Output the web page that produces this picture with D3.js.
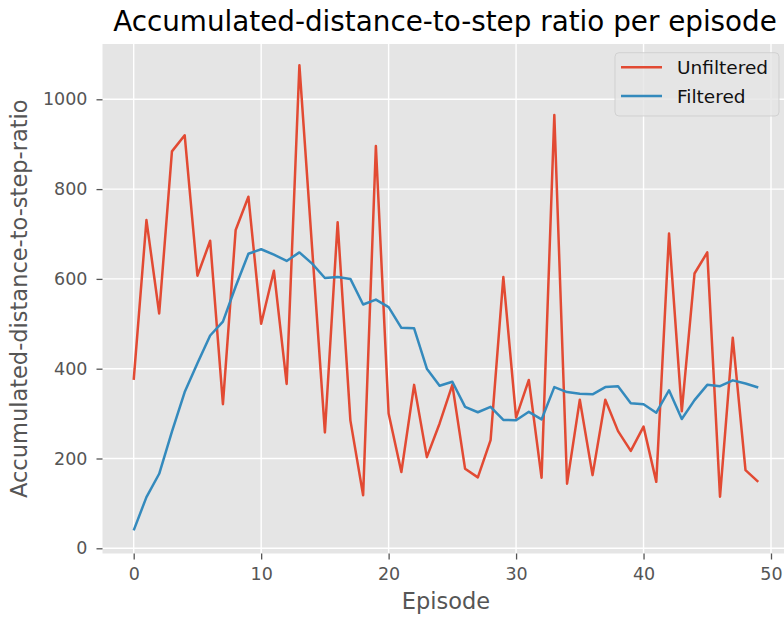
<!DOCTYPE html>
<html>
<head>
<meta charset="utf-8">
<script src="https://cdn.jsdelivr.net/npm/d3@7"></script>
<style>
  body { margin: 0; background: #fff; }
  svg { font-family: "DejaVu Sans", sans-serif; }
</style>
</head>
<body>
<script>
// values
var episodes = d3.range(0, 50);
var unfiltered = [375, 731, 523, 884, 920, 607, 685, 321, 709, 783,
                  500, 618, 366, 1076, 668, 258, 726, 285, 118, 896,
                  300, 170, 364, 203, 278, 364, 177, 158, 241, 604,
                  291, 375, 157, 965, 144, 331, 163, 331, 261, 217,
                  271, 148, 701, 305, 612, 659, 115, 469, 174, 148];
var filtered = [40, 114, 166, 260, 348, 412, 474, 505, 583, 656,
                666, 654, 640, 659, 634, 602, 604, 600, 543, 554,
                537, 491, 490, 400, 362, 371, 315, 303, 315, 286,
                285, 304, 287, 359, 348, 344, 343, 359, 361, 323,
                321, 302, 352, 288, 330, 364, 361, 374, 367, 358];
var xTicks = [0, 10, 20, 30, 40, 50];
var yTicks = [0, 200, 400, 600, 800, 1000];
var seriesNames = ["Unfiltered", "Filtered"];
var seriesColors = ["#E24A33", "#348ABD"];

var W = 784, H = 617;
var plot = {left: 102.5, right: 790, top: 44, bottom: 553.5};

var x = d3.scaleLinear().domain([0, 50]).range([133.7, 771]);
var y = d3.scaleLinear().domain([0, 1000]).range([548.3, 99.3]);

var svg = d3.select("body").append("svg")
	.attr("width", W)
	.attr("height", H);

svg.append("rect")
	.attr("x", plot.left)
	.attr("y", plot.top)
	.attr("width", plot.right - plot.left)
	.attr("height", plot.bottom - plot.top)
	.attr("fill", "#E5E5E5");

// grid
var grid = svg.append("g").attr("stroke", "#fff").attr("stroke-width", 1.4);
grid.selectAll(".gx").data(xTicks).enter().append("line")
	.attr("x1", function(d){ return x(d); })
	.attr("x2", function(d){ return x(d); })
	.attr("y1", plot.top).attr("y2", plot.bottom);
grid.selectAll(".gy").data(yTicks).enter().append("line")
	.attr("y1", function(d){ return y(d); })
	.attr("y2", function(d){ return y(d); })
	.attr("x1", plot.left).attr("x2", plot.right);

// axes
var xAxis = svg.append("g")
	.attr("transform", "translate(0," + plot.bottom + ")")
	.call(d3.axisBottom(x).tickValues(xTicks).tickSize(6).tickPadding(8).tickFormat(d3.format("d")));
var yAxis = svg.append("g")
	.attr("transform", "translate(" + plot.left + ",0)")
	.call(d3.axisLeft(y).tickValues(yTicks).tickSize(6).tickPadding(9).tickFormat(d3.format("d")));

[xAxis, yAxis].forEach(function(ax){
	ax.select(".domain").remove();
	ax.selectAll(".tick line").attr("stroke", "#555555").attr("stroke-width", 1.3);
	ax.selectAll(".tick text")
		.attr("fill", "#555555")
		.style("font-size", "17.5px")
		.style("font-family", "DejaVu Sans");
});

// lines
var line = d3.line()
	.x(function(d, i){ return x(episodes[i]); })
	.y(function(d){ return y(d); });

[unfiltered, filtered].forEach(function(s, k){
	svg.append("path")
		.datum(s)
		.attr("d", line)
		.attr("fill", "none")
		.attr("stroke", seriesColors[k])
		.attr("stroke-width", 2.5)
		.attr("stroke-linejoin", "round");
});

// title and labels
svg.append("text")
	.attr("x", 445).attr("y", 31)
	.attr("text-anchor", "middle")
	.style("font-size", "27.8px")
	.attr("fill", "#000")
	.text("Accumulated-distance-to-step ratio per episode");

svg.append("text")
	.attr("x", 446).attr("y", 609)
	.attr("text-anchor", "middle")
	.style("font-size", "22.5px")
	.attr("fill", "#555555")
	.text("Episode");

svg.append("text")
	.attr("transform", "translate(27," + ((plot.top + plot.bottom) / 2) + ") rotate(-90)")
	.attr("text-anchor", "middle")
	.style("font-size", "22.5px")
	.attr("fill", "#555555")
	.text("Accumulated-distance-to-step-ratio");

// legend
var lg = svg.append("g");
lg.append("rect")
	.attr("x", 615).attr("y", 52.7)
	.attr("width", 164).attr("height", 63.3)
	.attr("rx", 4)
	.attr("fill", "#E5E5E5").attr("fill-opacity", 0.8)
	.attr("stroke", "#cccccc").attr("stroke-opacity", 0.8);

var items = lg.selectAll(".item").data(seriesNames).enter().append("g")
	.attr("transform", function(d, i){ return "translate(0," + (67.3 + i * 28.7) + ")"; });
items.append("line")
	.attr("x1", 621).attr("x2", 662)
	.attr("stroke", function(d, i){ return seriesColors[i]; })
	.attr("stroke-width", 2.5);
items.append("text")
	.attr("x", 677).attr("y", 6.5)
	.style("font-size", "18.5px")
	.attr("fill", "#111")
	.text(function(d){ return d; });
</script>
</body>
</html>
